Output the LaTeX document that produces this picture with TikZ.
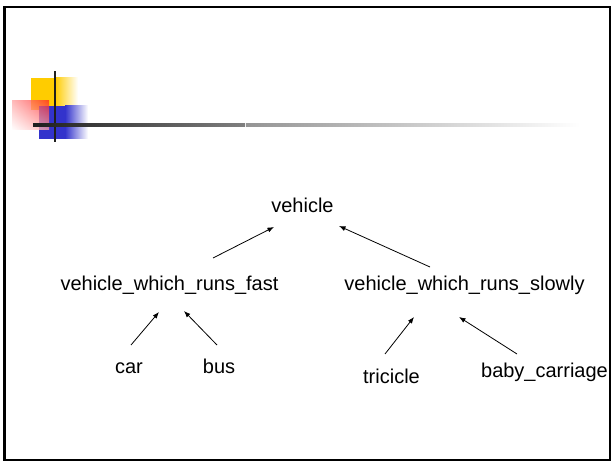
\documentclass[tikz,border=0pt]{standalone}
\usepackage{fontspec}
\setmainfont{Liberation Sans}
\usetikzlibrary{arrows.meta,shadings}
\definecolor{decoyellow}{HTML}{FFCC00}
\definecolor{decoblue}{HTML}{3333CC}
\newcommand{\lbl}[4]{\node[lbl] (#1) at (#2,#3) {#4};}
\newcommand{\arrw}[4]{\draw[arr] ([shift={(#2)}]#1.base) -- ([shift={(#4)}]#3.base);}
\tikzset{
	lbl/.style={anchor=base, inner sep=0pt, font=\fontsize{20bp}{24bp}\selectfont},
	arr/.style={-{Latex[length=6.5bp,width=5bp]}, line width=0.8bp}
}

\begin{document}
\begin{tikzpicture}[x=1bp, y=-1bp]
	\useasboundingbox (0,0) rectangle (613,463);
	\fill[white] (0,0) rectangle (613,463);
	\draw[line width=2.5bp] (4.5,7) rectangle (610,460);

	\fill[decoyellow] (31,78) rectangle (55,110);
	\shade[left color=decoyellow, right color=white] (55,78) rectangle (78,110);
	\fill[decoblue] (39,106) rectangle (65,139);
	\shade[left color=decoblue, right color=white] (65,106) rectangle (88,139);
	\shade[opacity=.75, upper left=red!35, upper right=red!85, lower left=white, lower right=red!35] (12,101) rectangle (49,130);
	\fill[black!88] (53.7,71) rectangle (56.3,142);
	\shade[left color=black!88, right color=black!50] (33,124) rectangle (245,127);
	\shade[left color=black!42, right color=white] (246,124) rectangle (580,127);

	\lbl{vehicle}{302.5}{213}{vehicle}
	\lbl{fast}{169.5}{291}{vehicle\_which\_runs\_fast}
	\lbl{slowly}{464.5}{291}{vehicle\_which\_runs\_slowly}
	\lbl{car}{129}{373}{car}
	\lbl{bus}{219}{373}{bus}
	\lbl{tricicle}{391.5}{383}{tricicle}
	\lbl{baby}{544.5}{377}{baby\_carriage}

	\arrw{fast}{43.5,-33}{vehicle}{-28.5,14}
	\arrw{slowly}{-34.5,-24}{vehicle}{36.5,13}
	\arrw{car}{2,-28}{fast}{-10.5,21}
	\arrw{bus}{-2,-28}{fast}{14.5,20}
	\arrw{tricicle}{-6.5,-29}{slowly}{-50.5,26}
	\arrw{baby}{-27.5,-23}{slowly}{-5.5,26}
\end{tikzpicture}
\end{document}
